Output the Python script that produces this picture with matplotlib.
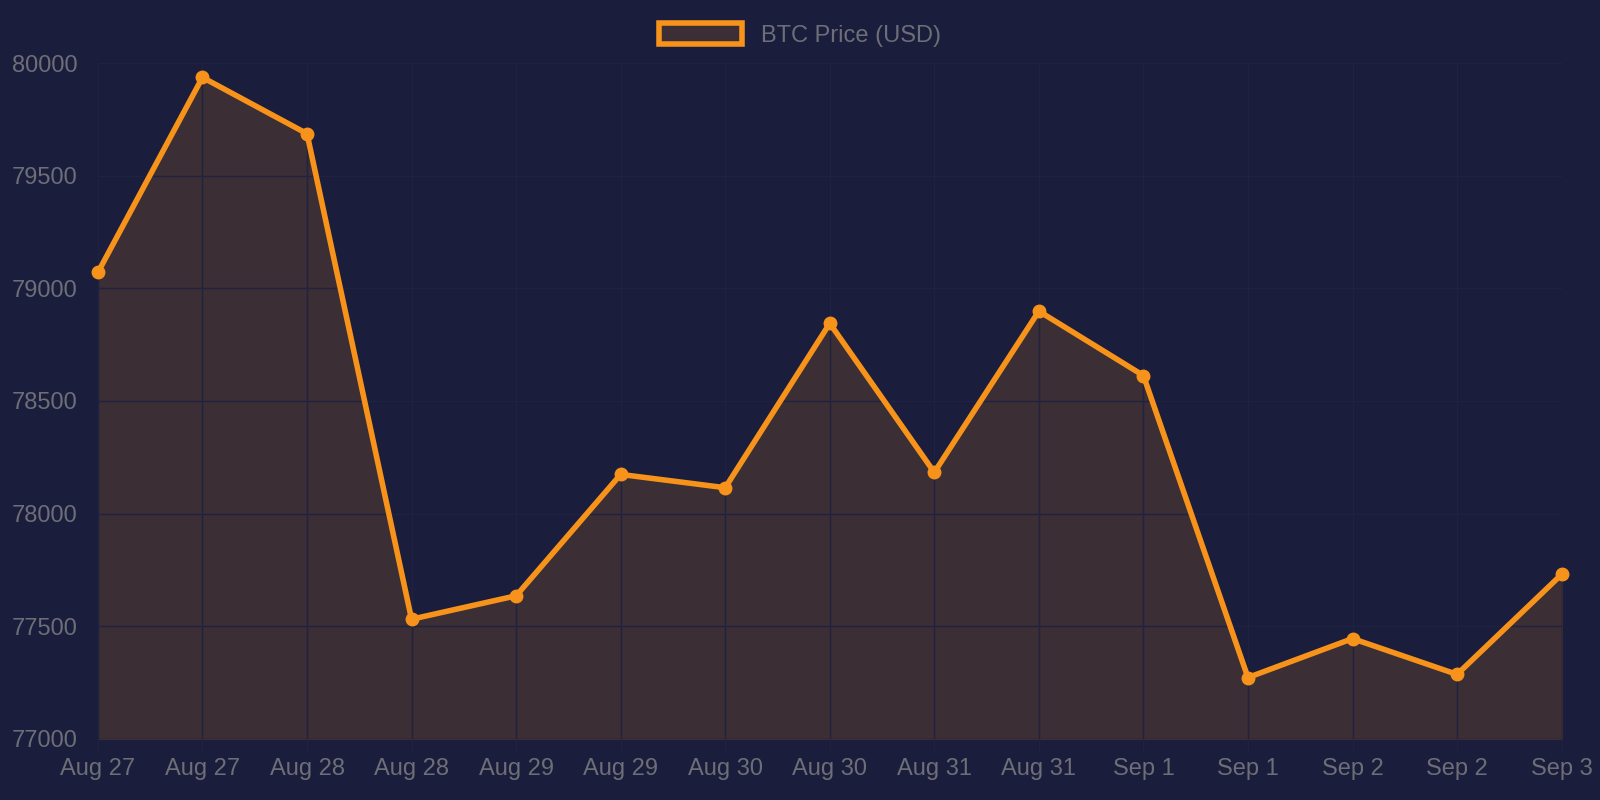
import matplotlib
matplotlib.use("Agg")
import matplotlib.pyplot as plt
from matplotlib.patches import Patch

labels = ["Aug 27","Aug 27","Aug 28","Aug 28","Aug 29","Aug 29","Aug 30","Aug 30",
          "Aug 31","Aug 31","Sep 1","Sep 1","Sep 2","Sep 2","Sep 3"]
prices = [79071,79937,79687,77531,77635,78174,78115,78845,78183,78899,78613,77272,77445,77286,77730]

bg = "#1a1d3b"
orange = "#f7931a"
fillc = "#3b2e35"
txt = "#6e6e78"

plt.rcParams['font.family'] = ['Liberation Sans', 'DejaVu Sans']
fig = plt.figure(figsize=(16, 8), dpi=100, facecolor=bg)
ax = fig.add_axes([0.0612, 0.0765, 0.9148, 0.8445], facecolor=bg)
x = list(range(len(prices)))
ax.fill_between(x, prices, 77000, color=fillc, zorder=1)
ax.plot(x, prices, color=orange, lw=4, marker='o', ms=9, zorder=3, clip_on=False)
ax.set_xlim(0, len(prices)-1)
ax.set_ylim(77000, 80000)
ax.set_xticks(x)
ax.set_xticklabels(labels)
ax.set_yticks(range(77000, 80001, 500))
ax.grid(True, color="#1f2240", lw=1)
for s in ax.spines.values():
    s.set_visible(False)
ax.tick_params(colors=txt, labelsize=17, length=8, color="#1f2240")
ax.tick_params(axis='x', pad=6)
ax.tick_params(axis='y', length=0, pad=62)
for l in ax.get_yticklabels():
    l.set_horizontalalignment('left')
fig.legend(handles=[Patch(facecolor=fillc, edgecolor=orange, lw=4, label="BTC Price (USD)")],
           loc='upper center', bbox_to_anchor=(0.5, 0.998), frameon=False,
           fontsize=17, labelcolor=txt, handlelength=3.5, handleheight=1.0)
fig.savefig("out.png", facecolor=bg)
